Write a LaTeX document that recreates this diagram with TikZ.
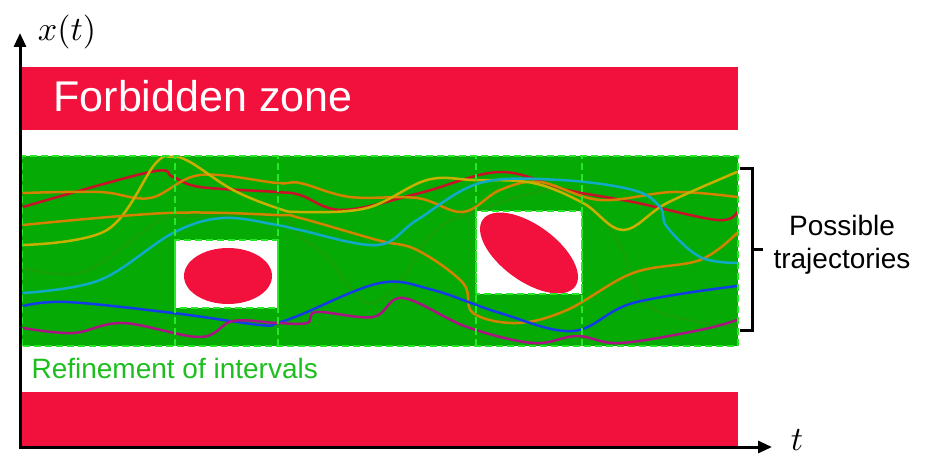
\documentclass[tikz,border=0pt]{standalone}
\usepackage{amsmath}
\usepackage{fontspec}
\setmainfont{Liberation Sans}
\usepackage{tikz}
\usetikzlibrary{arrows.meta}

\definecolor{zonered}{RGB}{242,16,60}
\definecolor{tubegreen}{RGB}{5,170,5}
\definecolor{edgegreen}{RGB}{40,230,40}
\definecolor{labelgreen}{RGB}{30,190,30}
\definecolor{trcrimson}{RGB}{200,16,40}
\definecolor{trorange}{RGB}{210,130,0}
\definecolor{tryellow}{RGB}{200,175,0}
\definecolor{trcyan}{RGB}{16,170,200}
\definecolor{trblue}{RGB}{20,60,230}
\definecolor{trmagenta}{RGB}{170,20,130}
\definecolor{trfaint}{RGB}{40,150,10}

\begin{document}
\begin{tikzpicture}[x=1pt, y=1pt,
  zone/.style={fill=zonered, draw=none},
  refine/.style={draw=edgegreen, line width=2.5pt, dash pattern=on 7pt off 4pt},
  traj/.style={line width=2.5pt, line cap=round},
  axis/.style={line width=3pt, -{Triangle[length=14pt,width=12pt]}}]
\useasboundingbox (0,0) rectangle (933,456);

% forbidden zones
\fill[zone] (22,326) rectangle (738,389);
\fill[zone] (22,10) rectangle (738,64);
\node[white, anchor=base west, font=\fontsize{43}{50}\selectfont] (fz) at (50,344) {Forbidden zone};

% tube of intervals
\fill[tubegreen] (22,110) rectangle (738,300);

\draw[traj, trfaint, opacity=0.5] plot[smooth, tension=0.6] coordinates {(23,188) (83,184) (150,229) (173,239) (277,239) (300,219) (327,199) (367,153) (400,176) (433,223) (473,244) (567,266) (617,216) (650,149) (737,129)};
\draw[traj, trcrimson] plot[smooth, tension=0.6] coordinates {(23,249) (150,284) (173,279) (200,269) (277,264) (300,261) (343,246) (420,263) (500,284) (567,266) (633,254) (717,236) (737,244)};
\draw[traj, trorange] plot[smooth, tension=0.6] coordinates {(23,263) (100,264) (150,258) (200,281) (277,273) (300,273) (350,259) (417,258) (463,244) (500,266) (540,274) (600,256) (673,264) (737,259)};
\draw[traj, tryellow] plot[smooth, tension=0.6] coordinates {(23,211) (107,226) (155,292) (172,299) (190,294) (233,266) (277,248) (300,244) (367,248) (427,276) (473,276) (533,273) (583,253) (623,226) (667,253) (737,284)};
\draw[traj, trorange] plot[smooth, tension=0.6] coordinates {(23,231) (167,243) (277,241) (300,238) (377,216) (417,206) (463,173) (473,143) (517,133) (567,146) (633,183) (700,196) (737,223)};
\draw[traj, trcyan] plot[smooth, tension=0.6] coordinates {(23,163) (100,176) (173,223) (223,238) (277,231) (300,226) (377,211) (417,236) (480,273) (560,276) (633,266) (660,249) (667,229) (700,199) (737,193)};
\draw[traj, trblue] plot[smooth, tension=0.6] coordinates {(23,150) (67,154) (173,143) (260,131) (277,133) (300,141) (380,173) (433,166) (500,143) (573,125) (633,153) (737,170)};
\draw[traj, trmagenta] plot[smooth, tension=0.6] coordinates {(23,128) (73,123) (123,133) (200,119) (233,135) (277,133) (307,133) (317,144) (373,139) (403,158) (467,129) (533,113) (577,120) (620,113) (700,126) (737,136)};

% refined boxes with obstacles
\fill[white] (175,148) rectangle (278,216);
\fill[zonered] (228,180) ellipse [x radius=44, y radius=28];
\fill[white] (476,162) rectangle (582,245);
\fill[zonered, rotate around={-36:(529,203)}] (529,203) ellipse [x radius=57, y radius=28];

\draw[refine] (22,110) rectangle (738,300);
\foreach \xi in {175,278,476,582}
  \draw[refine] (\xi,110) -- (\xi,300);
\draw[refine] (175,148) rectangle (278,216);
\draw[refine] (476,162) rectangle (582,245);

\node[labelgreen, anchor=base west, font=\fontsize{28}{33}\selectfont] (ri) at (28,78) {Refinement of intervals};

% bracket
\coordinate (brtop) at (740,288);
\coordinate (brbot) at (740,126);
\coordinate (brmid) at (752,207);
\draw[line width=3pt] (brtop) -- ++(12,0) |- (brbot);
\draw[line width=3pt] (brmid) -- ++(11,0);
\node[align=center, anchor=west, font=\fontsize{28}{33}\selectfont] (pt) at (770,211) {Possible\\trajectories};

% axes
\coordinate (o) at (20,9);
\coordinate (xtop) at (20,423);
\coordinate (tend) at (772,9);
\draw[axis] (o) -- (xtop);
\draw[axis] ([xshift=-1.5pt]o) -- (tend);
\node (xl) at (67,424) {\scalebox{3.4}{$x(t)$}};
\node (tl) at (797,16) {\scalebox{3.4}{$t$}};
\end{tikzpicture}
\end{document}
